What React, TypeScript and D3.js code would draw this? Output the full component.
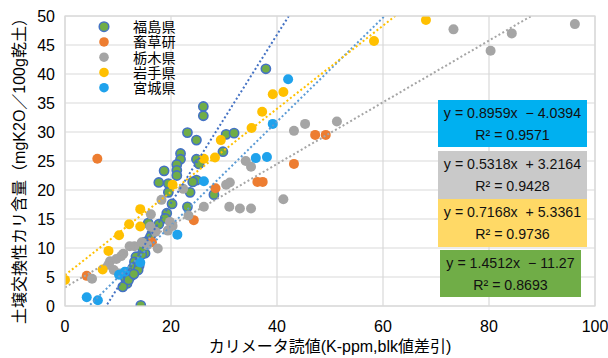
import React from 'react';
import * as d3 from 'd3';

// Series names (legend order) and marker colours
const seriesNames = ['福島県', '畜草研', '栃木県', '岩手県', '宮城県'];
const seriesFill = ['#70AD47', '#ED7D31', '#A5A5A5', '#FFC000', '#1FA2EC'];

// Measured pairs: [カリメータ読値, 土壌交換性カリ含量]
const fukushima: [number, number][] = [
  [37.9, 40.9], [26.1, 34.4], [26.1, 32.8], [30.4, 29.6], [31.9, 29.8], [23.1, 29.9],
  [24.8, 28.6], [29.8, 26.6], [21.8, 26.3], [21.8, 25.3], [24.8, 25.3], [21.1, 24.4],
  [25.3, 24.5], [21.1, 23.4], [18.7, 23.3], [21.1, 22.5], [24.8, 21.7], [24.1, 21.4],
  [17.7, 21.3], [19.5, 21.1], [19.5, 19.6], [23.6, 19.6], [28.1, 19.2], [20.2, 17.6],
  [23.1, 17.1], [19.2, 16.0], [18.9, 15.1], [17.7, 14.1], [15.7, 14.3], [16.4, 12.5],
  [16.1, 11.9], [15.4, 11.1], [15.0, 11.0], [15.1, 9.1], [14.5, 8.9], [13.4, 8.5],
  [13.1, 7.6], [12.8, 6.6], [11.9, 5.8], [12.5, 5.2], [11.4, 4.8], [11.7, 3.9],
  [10.9, 3.3], [14.3, 0.1], [14.0, 7.0], [14.6, 10.0], [13.8, 6.2], [16.8, 13.0],
  [12.0, 4.5], [13.0, 5.5],
];
const chikusoken: [number, number][] = [
  [6.1, 25.4], [28.4, 20.3], [24.3, 14.8], [16.4, 11.0], [4.1, 5.2], [36.3, 21.4],
  [37.3, 21.4], [43.2, 24.5], [47.2, 29.5], [49.2, 29.5],
];
const tochigi: [number, number][] = [
  [96.2, 48.6], [84.3, 47.0], [73.3, 47.7], [80.3, 44.0], [51.3, 31.8], [45.3, 31.4],
  [43.2, 30.2], [41.2, 18.4], [35.1, 24.0], [34.1, 25.0], [31.1, 21.3], [30.4, 20.9],
  [35.1, 16.8], [33.0, 16.8], [31.0, 17.1], [26.2, 17.1], [22.3, 20.2], [18.2, 18.3],
  [23.3, 15.6], [16.2, 15.8], [20.3, 13.8], [19.4, 13.0], [19.8, 14.5], [17.1, 12.8],
  [16.1, 13.7], [17.5, 9.9], [15.5, 10.5], [13.1, 10.3], [12.2, 10.3], [11.0, 9.0],
  [10.6, 8.6], [9.7, 8.1], [8.5, 7.7], [8.2, 7.1], [9.2, 6.2], [5.1, 4.7],
  [10.2, 5.6], [14.5, 11.0],
];
const iwate: [number, number][] = [
  [0, 4.5], [7.1, 6.3], [8.2, 9.5], [10.2, 12.2], [12.1, 14.1], [14.2, 13.7],
  [14.2, 16.7], [20.3, 20.9], [26.2, 25.4], [28.3, 25.6], [29.4, 28.6], [35.2, 30.7],
  [37.2, 33.5], [39.2, 36.5], [41.2, 36.9], [58.3, 45.7], [68.1, 49.3],
];
const miyagi: [number, number][] = [
  [4.1, 1.5], [6.2, 1.0], [10.2, 5.4], [11.3, 5.9], [14.2, 7.5], [21.2, 12.3],
  [26.2, 21.5], [36.0, 25.5], [38.1, 25.7], [39.2, 31.4], [42.1, 39.1],
];
const seriesData = [fukushima, chikusoken, tochigi, iwate, miyagi];

// Linear trendlines (series index, slope, intercept, R²), in label-box order
const trendSeries = [4, 2, 3, 0];
const trendSlope = [0.8959, 0.5318, 0.7168, 1.4512];
const trendIntercept = [-4.0394, 3.2164, 5.3361, -11.27];
const trendR2 = ['0.9571', '0.9428', '0.9736', '0.8693'];
const trendLineColor = ['#5B9BD5', '#A5A5A5', '#FFC000', '#4472C4'];
const trendBoxFill = ['#00B0F0', '#C9C9C9', '#FFD966', '#70AD47'];

const xTicks = [0, 20, 40, 60, 80, 100];
const yTicks = [0, 5, 10, 15, 20, 25, 30, 35, 40, 45, 50];

const xTitle = 'カリメータ読値(K-ppm,blk値差引)';
const yTitle = '土壌交換性カリ含量（mgK2O／100g乾土）';

const W = 608;
const H = 358;
const plot = { left: 65, right: 595, top: 16, bottom: 306 };
const font = '"Liberation Sans", Arial, "Noto Sans CJK JP", sans-serif';

function fmt(v: number, digits: number) {
  return Math.abs(v).toFixed(digits).replace(/0+$/, '').replace(/\.$/, '');
}

export default function App() {
  const x = d3.scaleLinear().domain([0, 100]).range([plot.left, plot.right]);
  const y = d3.scaleLinear().domain([0, 50]).range([plot.bottom, plot.top]);

  const trendPath = (slope: number, intercept: number) =>
    d3
      .line<number>()
      .x((d) => x(d))
      .y((d) => y(slope * d + intercept))(d3.range(0, 100.001, 1));

  const boxes = [
    { x0: 438, x1: 587, y0: 100, y1: 147 },
    { x0: 438, x1: 587, y0: 151, y1: 199 },
    { x0: 438, x1: 587, y0: 199, y1: 247 },
    { x0: 440, x1: 581, y0: 250, y1: 297 },
  ];

  return (
    <svg
      width={W}
      height={H}
      style={{ position: 'absolute', left: 0, top: 0, background: '#fff' }}
      fontFamily={font}
    >
      <defs>
        <clipPath id="plot-clip">
          <rect x={plot.left} y={plot.top} width={plot.right - plot.left} height={plot.bottom - plot.top} />
        </clipPath>
      </defs>
      <rect x={0} y={0} width={W} height={H} fill="#fff" />

      {/* gridlines */}
      {yTicks.map((t) => (
        <line key={'gy' + t} x1={plot.left} x2={plot.right} y1={y(t)} y2={y(t)} stroke="#D9D9D9" strokeWidth={1.2} />
      ))}
      {xTicks.map((t) => (
        <line key={'gx' + t} x1={x(t)} x2={x(t)} y1={plot.top} y2={plot.bottom} stroke="#D9D9D9" strokeWidth={1.2} />
      ))}

      {/* tick labels */}
      {yTicks.map((t) => (
        <text key={'ty' + t} x={55} y={y(t)} dy="0.36em" textAnchor="end" fontSize={16} fill="#000">
          {t}
        </text>
      ))}
      {xTicks.map((t) => (
        <text key={'tx' + t} x={x(t)} y={332} textAnchor="middle" fontSize={16} fill="#000">
          {t}
        </text>
      ))}

      {/* axis titles */}
      <text x={330} y={352} textAnchor="middle" fontSize={16} fill="#000">
        {xTitle}
      </text>
      <text
        transform={`translate(25,${(plot.top + plot.bottom) / 2 + 6}) rotate(-90)`}
        textAnchor="middle"
        fontSize={16}
        fill="#000"
      >
        {yTitle}
      </text>

      {/* legend */}
      {seriesNames.map((name, i) => (
        <circle
          key={'lm' + name}
          cx={104}
          cy={26.7 + i * 15.25}
          r={4.8}
          fill={seriesFill[i]}
          stroke={i === 0 ? '#4472C4' : 'none'}
          strokeWidth={1.5}
        />
      ))}
      <text fontSize={14.2} fill="#000" fontFamily='"Noto Sans CJK JP", sans-serif'>
        {seriesNames.map((name, i) => (
          <tspan key={'lt' + name} x={133} y={26.7 + i * 15.25} dy="0.38em">
            {name}
          </tspan>
        ))}
      </text>

      {/* markers */}
      <g clipPath="url(#plot-clip)">
        {[0, 1, 2, 3, 4].map((s) => (
          <g key={'s' + s}>
            {seriesData[s].map((d, j) => (
              <circle
                key={j}
                cx={x(d[0])}
                cy={y(d[1])}
                r={s === 0 ? 4.6 : 5}
                fill={seriesFill[s]}
                stroke={s === 0 ? '#4472C4' : 'none'}
                strokeWidth={1.6}
              />
            ))}
          </g>
        ))}
      </g>

      {/* trendlines */}
      <g clipPath="url(#plot-clip)">
        {trendSeries.map((s, k) => (
          <path
            key={'tr' + s}
            d={trendPath(trendSlope[k], trendIntercept[k]) || ''}
            fill="none"
            stroke={trendLineColor[k]}
            strokeWidth={2}
            strokeDasharray="2 2.4"
          />
        ))}
      </g>

      {/* plot border */}
      <rect
        x={plot.left}
        y={plot.top}
        width={plot.right - plot.left}
        height={plot.bottom - plot.top}
        fill="none"
        stroke="#D9D9D9"
        strokeWidth={1.2}
      />

      {/* trendline equation labels */}
      {trendSeries.map((s, k) => {
        const b = boxes[k];
        const cx = (b.x0 + b.x1) / 2;
        const sign = trendIntercept[k] < 0 ? '−' : '+';
        const eq = `y = ${trendSlope[k].toFixed(4)}x  ${sign} ${fmt(trendIntercept[k], 4)}`;
        return (
          <g key={'box' + s}>
            <rect x={b.x0} y={b.y0} width={b.x1 - b.x0} height={b.y1 - b.y0} fill={trendBoxFill[k]} />
            <text x={cx} y={b.y0 + 18} textAnchor="middle" fontSize={14.2} fill="#111" style={{ whiteSpace: 'pre' }}>
              {eq}
            </text>
            <text x={cx} y={b.y0 + 40} textAnchor="middle" fontSize={14.2} fill="#111">
              {`R² = ${trendR2[k]}`}
            </text>
          </g>
        );
      })}
    </svg>
  );
}
